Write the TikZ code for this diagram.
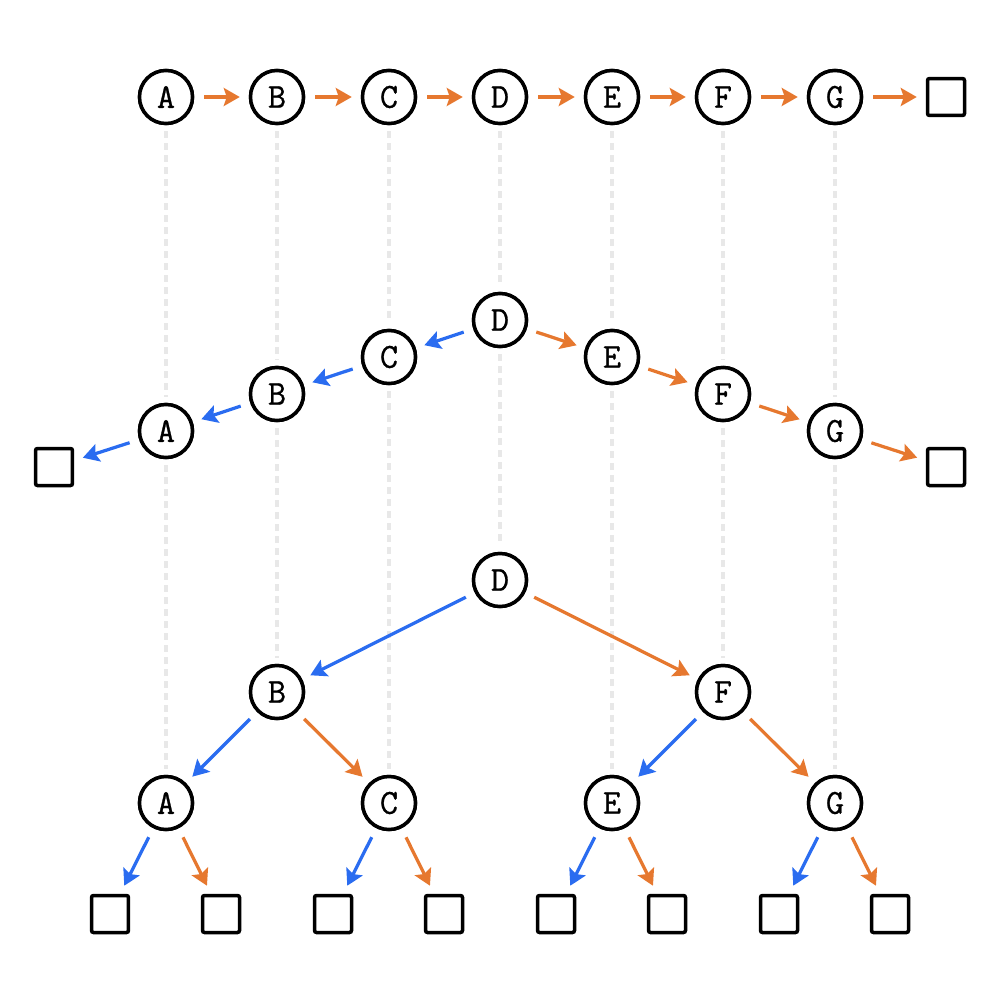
\documentclass[tikz,border=0pt]{standalone}
\usepackage{fontspec}
\newfontfamily\nodefont{Latin Modern Mono}[FakeBold=0.8]
\usetikzlibrary{arrows.meta}
\definecolor{orng}{HTML}{E6782F}
\definecolor{blu}{HTML}{2A6CF0}
\definecolor{dgray}{HTML}{E8E8E8}
\begin{document}
\begin{tikzpicture}[x=0.02cm,y=-0.02cm,
  vtx/.style={circle,draw=black,line width=0.07cm,minimum size=1.06cm,inner sep=0pt,fill=white,font=\fontsize{20}{24}\selectfont\nodefont},
  leaf/.style={rectangle,draw=black,line width=0.07cm,minimum size=0.74cm,inner sep=0pt,rounded corners=0.04cm},
  arr/.style={line width=0.065cm,-{Stealth[length=0.32cm,width=0.36cm,inset=0.06cm]},shorten <=0.2cm,shorten >=0.18cm},
  oarr/.style={arr,draw=orng,color=orng},
  barr/.style={arr,draw=blu,color=blu},
  guide/.style={draw=dgray,line width=0.07cm,dash pattern=on 0.14cm off 0.1cm,shorten <=0.12cm,shorten >=0.12cm}]
\useasboundingbox (0,0) rectangle (1000,1000);
% top row
\node[vtx] (tA) at (166,97) {A};
\node[vtx] (tB) at (277,97) {B};
\node[vtx] (tC) at (389,97) {C};
\node[vtx] (tD) at (500,97) {D};
\node[vtx] (tE) at (612,97) {E};
\node[vtx] (tF) at (723,97) {F};
\node[vtx] (tG) at (835,97) {G};
\node[leaf] (tL) at (946,97) {};
% middle
\node[vtx] (mD) at (500,320) {D};
\node[vtx] (mC) at (389,357) {C};
\node[vtx] (mB) at (277,394) {B};
\node[vtx] (mA) at (166,431) {A};
\node[leaf] (mL1) at (54,467) {};
\node[vtx] (mE) at (612,357) {E};
\node[vtx] (mF) at (723,394) {F};
\node[vtx] (mG) at (835,431) {G};
\node[leaf] (mL2) at (946,467) {};
% bottom
\node[vtx] (bD) at (500,580) {D};
\node[vtx] (bB) at (277,692) {B};
\node[vtx] (bF) at (723,692) {F};
\node[vtx] (bA) at (166,803) {A};
\node[vtx] (bC) at (389,803) {C};
\node[vtx] (bE) at (612,803) {E};
\node[vtx] (bG) at (835,803) {G};
\node[leaf] (l1) at (110,914) {};
\node[leaf] (l2) at (221,914) {};
\node[leaf] (l3) at (333,914) {};
\node[leaf] (l4) at (444,914) {};
\node[leaf] (l5) at (556,914) {};
\node[leaf] (l6) at (667,914) {};
\node[leaf] (l7) at (779,914) {};
\node[leaf] (l8) at (890,914) {};
% guides
\foreach \n in {A,B,C,D,E,F,G}{
  \draw[guide] (t\n) -- (m\n);
  \draw[guide] (m\n) -- (b\n);
}
% redraw nodes over guides
\foreach \n in {A,B,C,D,E,F,G}{
  \node[vtx] at (t\n) {\n};
  \node[vtx] at (m\n) {\n};
  \node[vtx] at (b\n) {\n};
}
% top arrows
\draw[oarr] (tA) -- (tB);
\draw[oarr] (tB) -- (tC);
\draw[oarr] (tC) -- (tD);
\draw[oarr] (tD) -- (tE);
\draw[oarr] (tE) -- (tF);
\draw[oarr] (tF) -- (tG);
\draw[oarr] (tG) -- (tL);
% middle arrows
\draw[barr] (mD) -- (mC);
\draw[barr] (mC) -- (mB);
\draw[barr] (mB) -- (mA);
\draw[barr] (mA) -- (mL1);
\draw[oarr] (mD) -- (mE);
\draw[oarr] (mE) -- (mF);
\draw[oarr] (mF) -- (mG);
\draw[oarr] (mG) -- (mL2);
% bottom arrows
\draw[barr] (bD) -- (bB);
\draw[oarr] (bD) -- (bF);
\draw[barr] (bB) -- (bA);
\draw[oarr] (bB) -- (bC);
\draw[barr] (bF) -- (bE);
\draw[oarr] (bF) -- (bG);
\draw[barr] (bA) -- (l1);
\draw[oarr] (bA) -- (l2);
\draw[barr] (bC) -- (l3);
\draw[oarr] (bC) -- (l4);
\draw[barr] (bE) -- (l5);
\draw[oarr] (bE) -- (l6);
\draw[barr] (bG) -- (l7);
\draw[oarr] (bG) -- (l8);
\end{tikzpicture}
\end{document}
